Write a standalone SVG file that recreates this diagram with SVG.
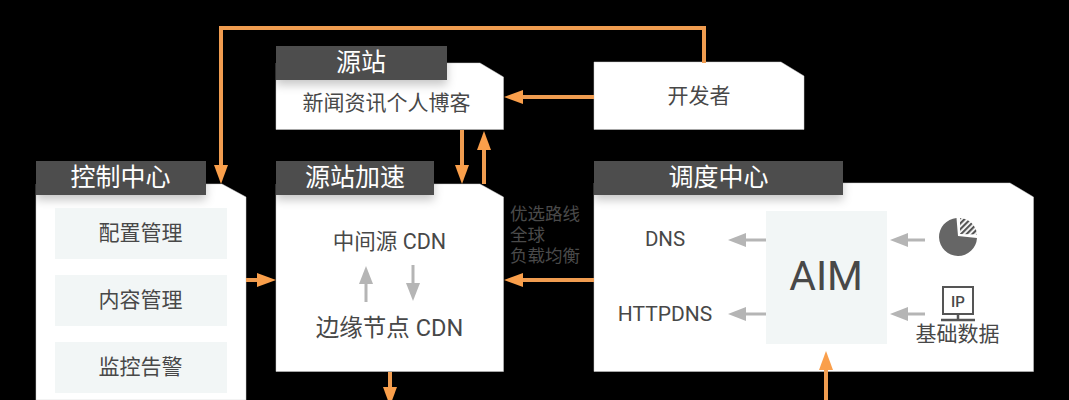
<svg xmlns="http://www.w3.org/2000/svg" width="1069" height="400" viewBox="0 0 1069 400">
<defs>
<style>
text{font-family:"Roboto","Noto Sans CJK SC",sans-serif;fill:#484848;text-anchor:middle;font-weight:400}
.b{fill:#fff;stroke:#ccc;stroke-width:.5}
.h{fill:#4d4d4d;filter:url(#s)}
.ht{fill:#fff;font-size:25px}
.t{font-size:21px}
.l{font-size:17.500px;fill:#4a4a4a;text-anchor:start}
.i{fill:#f2f6f6}
.o{fill:none;stroke:#f09c50;stroke-width:4}
.g{fill:none;stroke:#b5b5b5;stroke-width:3}
</style>
<filter id="s" x="-10%" y="-30%" width="120%" height="180%"><feDropShadow dx="0" dy="5" stdDeviation="5" flood-color="#000" flood-opacity=".22"/></filter>
<marker id="ao" markerUnits="userSpaceOnUse" markerWidth="20" markerHeight="14" refX="13" refY="7" orient="auto"><path d="M0 0L19 7L0 14Z" fill="#fa9f4b"/></marker>
<marker id="ag" markerUnits="userSpaceOnUse" markerWidth="20" markerHeight="14" refX="12" refY="7" orient="auto"><path d="M0 0L18 7L0 14Z" fill="#b5b5b5"/></marker>
<pattern id="hatch" width="4" height="4" patternUnits="userSpaceOnUse" patternTransform="rotate(45)"><rect width="4" height="4" fill="#fff"/><rect width="2.200" height="4" fill="#555"/></pattern>
</defs>
<rect width="1069" height="400" fill="#000"/>
<g id="source"><path class="b" d="M276 63H480L503.500 77V129.500H276Z"/><rect class="h" x="276" y="46" width="171" height="34"/><text class="ht" x="361" y="71">源站</text><text class="t" x="386.500" y="110">新闻资讯个人博客</text></g>
<g id="developer"><path class="b" d="M594 62H781L804 76V129.500H594Z"/><text class="t" x="699" y="103">开发者</text></g>
<g id="control"><path class="b" d="M36 184H222L246 197V400H36Z"/><rect class="h" x="36" y="161" width="170" height="34"/><text class="ht" x="120.500" y="186">控制中心</text>
<rect class="i" x="55" y="208" width="172" height="51"/><text class="t" x="140.500" y="240">配置管理</text>
<rect class="i" x="55" y="275" width="172" height="51"/><text class="t" x="140.500" y="307">内容管理</text>
<rect class="i" x="55" y="342" width="172" height="51"/><text class="t" x="140.500" y="374">监控告警</text></g>
<g id="accel"><path class="b" d="M276 184H480L503.500 197V371.500H276Z"/><rect class="h" x="276" y="161" width="158" height="34"/><text class="ht" x="355" y="186">源站加速</text>
<text x="389.500" y="249" style="font-size:21.500px">中间源 CDN</text><text x="389.500" y="336" style="font-size:23.500px">边缘节点 CDN</text>
<path class="g" d="M366 302V272" marker-end="url(#ag)"/><path class="g" d="M413 265V295" marker-end="url(#ag)"/></g>
<g id="lb"><text class="l" x="510" y="220">优选路线</text><text class="l" x="510" y="241">全球</text><text class="l" x="510" y="262">负载均衡</text></g>
<g id="dispatch"><path class="b" d="M594 183H1010L1033.500 197V371.500H594Z"/><rect class="h" x="594" y="161" width="249" height="34"/><text class="ht" x="718.500" y="186">调度中心</text>
<rect class="i" x="766" y="211" width="121" height="133"/><text x="826" y="290" style="font-size:41px">AIM</text>
<text x="665" y="246" style="font-size:20.500px">DNS</text><text x="665" y="321" style="font-size:21px">HTTPDNS</text>
<path class="g" d="M766 240H734" marker-end="url(#ag)"/><path class="g" d="M766 314H734" marker-end="url(#ag)"/><path class="g" d="M925 240H896" marker-end="url(#ag)"/><path class="g" d="M925 314H896" marker-end="url(#ag)"/>
<g id="pie"><path d="M956.500 218A19 19 0 1 0 977 238L958 236Z" fill="#666"/><path d="M960 218A18 18 0 0 1 977 234.500L960 234Z" fill="url(#hatch)"/></g>
<g id="ip"><rect x="943" y="287" width="30" height="27" fill="none" stroke="#555" stroke-width="2"/><text x="958" y="307" style="font-size:15px;font-weight:500">IP</text><path d="M958 314V319M941 320H975" stroke="#555" stroke-width="2.500"/></g>
<text x="957.500" y="341" style="font-size:21px">基础数据</text></g>
<g id="connectors">
<path class="o" d="M704 63V28H221V178" marker-end="url(#ao)"/>
<path class="o" d="M594 97H510" marker-end="url(#ao)"/>
<path class="o" d="M462 130V178" marker-end="url(#ao)"/>
<path class="o" d="M484 184V137" marker-end="url(#ao)"/>
<path class="o" d="M246 280H270" marker-end="url(#ao)"/>
<path class="o" d="M594 280H510" marker-end="url(#ao)"/>
<path class="o" d="M390 372V400" marker-end="url(#ao)"/>
<path class="o" d="M826 400V357" marker-end="url(#ao)"/>
</g>
</svg>
